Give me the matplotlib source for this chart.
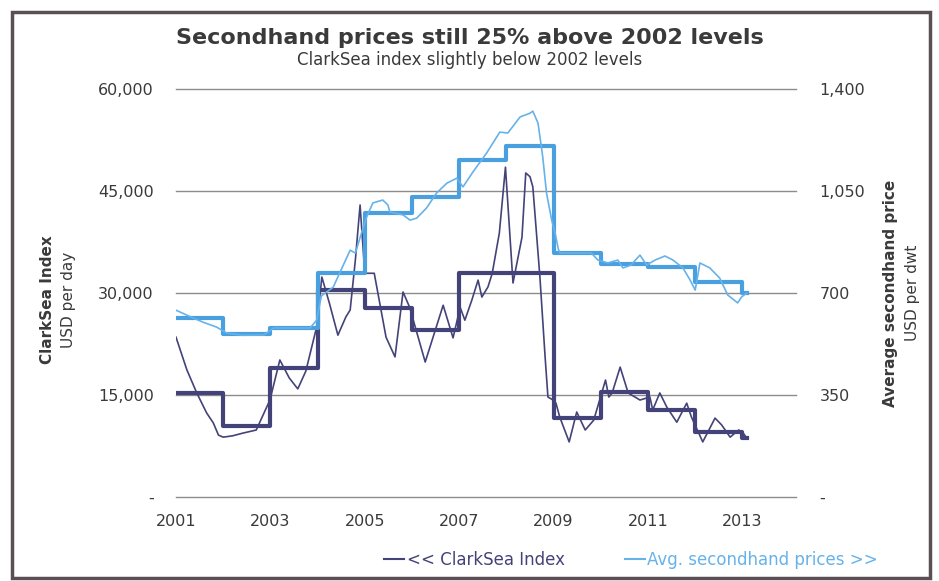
import numpy as np
import matplotlib.pyplot as plt
from matplotlib.lines import Line2D
from matplotlib.patches import Rectangle

# monthly ClarkSea index, USD/day (decimal years)
cs_t = [2001.00, 2001.23, 2001.44, 2001.65, 2001.79, 2001.90, 2002.00, 2002.20, 2002.42, 2002.70,
        2002.99, 2003.20, 2003.40, 2003.58, 2003.75, 2003.98, 2004.09, 2004.25, 2004.43, 2004.60,
        2004.69, 2004.80, 2004.90, 2005.00, 2005.20, 2005.45, 2005.64, 2005.81, 2005.95, 2006.28,
        2006.66, 2006.87, 2007.02, 2007.12, 2007.27, 2007.40, 2007.48, 2007.61, 2007.70, 2007.85,
        2007.98, 2008.14, 2008.33, 2008.41, 2008.50, 2008.56, 2008.71, 2008.82, 2008.88, 2008.99,
        2009.05, 2009.13, 2009.33, 2009.49, 2009.67, 2009.85, 2010.10, 2010.17, 2010.24, 2010.41,
        2010.58, 2010.83, 2011.04, 2011.10, 2011.25, 2011.40, 2011.61, 2011.82, 2011.92, 2012.16,
        2012.42, 2012.56, 2012.74, 2012.92, 2013.00, 2013.09]
cs_v = [23500, 18700, 15300, 12350, 10900, 9100, 8800, 9000, 9400, 9850,
        14260, 20150, 17500, 15900, 18500, 25000, 32350, 28500, 23800, 26500,
        27500, 34850, 42940, 32900, 32900, 23500, 20600, 30150, 27900, 19850,
        28200, 23400, 27900, 26000, 29000, 31900, 29400, 30900, 32900, 38800,
        48500, 31470, 38200, 47650, 47100, 45600, 32350, 20600, 14700, 14260,
        13800, 11760, 8100, 12500, 9850, 11300, 17200, 14700, 15300, 19100,
        15300, 14260, 14700, 12800, 15300, 13200, 11000, 13800, 11760, 8100,
        11600, 10600, 8800, 9850, 9560, 8700]

# monthly average secondhand price, USD/dwt
sh_t = [2001.00, 2001.23, 2001.57, 2001.86, 2002.07, 2002.40, 2002.86, 2003.07, 2003.50, 2003.84,
        2003.98, 2004.08, 2004.33, 2004.69, 2004.80, 2004.93, 2005.04, 2005.17, 2005.38, 2005.49,
        2005.53, 2005.81, 2005.96, 2006.10, 2006.31, 2006.52, 2006.74, 2006.95, 2007.08, 2007.29,
        2007.58, 2007.86, 2008.03, 2008.29, 2008.50, 2008.56, 2008.67, 2008.77, 2008.85, 2008.96,
        2009.04, 2009.10, 2009.14, 2009.80, 2009.94, 2010.15, 2010.36, 2010.47, 2010.64, 2010.83,
        2010.97, 2011.15, 2011.36, 2011.53, 2011.74, 2011.89, 2012.00, 2012.10, 2012.31, 2012.52,
        2012.69, 2012.90, 2012.98, 2013.09]
sh_v = [641, 624, 600, 583, 563, 555, 556, 580, 580, 580,
        607, 690, 720, 847, 837, 906, 961, 1009, 1019, 1002,
        978, 968, 950, 957, 992, 1043, 1077, 1094, 1064, 1115,
        1180, 1252, 1249, 1304, 1317, 1324, 1283, 1167, 1043, 950,
        900, 850, 837, 837, 813, 803, 813, 786, 796, 830,
        796, 813, 827, 813, 786, 745, 710, 803, 786, 751,
        693, 666, 686, 700]

# annual averages (2013 = January only)
years = [2001, 2002, 2003, 2004, 2005, 2006, 2007, 2008, 2009, 2010, 2011, 2012, 2013]
cs_avg = [15300, 10500, 19000, 30500, 27800, 24500, 32900, 32900, 11600, 15500, 12800, 9600, 8700]
sh_avg = [614, 561, 580, 769, 974, 1029, 1158, 1204, 837, 798, 789, 738, 700]
data_end = 2013.09

dark = '#43437a'
light = '#4a9fde'
light_thin = '#66b2ea'
txt = '#3a3a3a'

fig = plt.figure(figsize=(9.39, 5.81), dpi=100)
ax = fig.add_axes([176/939, 1 - 497/581, 620/939, 408/581])
ax2 = ax.twinx()

# ClarkSea (left axis)
ax.step(years + [data_end], cs_avg + [cs_avg[-1]], where='post', color=dark, lw=3.0, zorder=3)
ax.plot(cs_t, cs_v, color=dark, lw=1.2, zorder=4)

# secondhand prices (right axis)
ax2.step(years + [data_end], sh_avg + [sh_avg[-1]], where='post', color=light, lw=3.0, zorder=3)
ax2.plot(sh_t, sh_v, color=light_thin, lw=1.2, zorder=4)

ax.set_xlim(2001, 2001 + 620/47.2)
ax.set_ylim(0, 60000)
ax2.set_ylim(0, 1400)

ax.set_yticks([0, 15000, 30000, 45000, 60000])
ax.set_yticklabels(['-', '15,000', '30,000', '45,000', '60,000'])
ax2.set_yticks([0, 350, 700, 1050, 1400])
ax2.set_yticklabels(['-', '350', '700', '1,050', '1,400'])
ax.set_xticks([2001, 2003, 2005, 2007, 2009, 2011, 2013])
ax.set_xticklabels(['2001', '2003', '2005', '2007', '2009', '2011', '2013'])

for a in (ax, ax2):
    for s in a.spines.values():
        s.set_visible(False)
    a.tick_params(length=0, labelsize=11.5, colors=txt)
ax.tick_params(axis='y', pad=16)
ax2.tick_params(axis='y', pad=17)
ax.tick_params(axis='x', pad=12)

ax.yaxis.grid(True, color='#8c8c8c', lw=1)
for g in ax.get_ygridlines():
    g.set_clip_on(False)
ax.set_axisbelow(True)

# titles
fig.text(0.5, 1 - 38/581, 'Secondhand prices still 25% above 2002 levels', ha='center', va='center',
         fontsize=16, fontweight='bold', color=txt)
fig.text(0.5, 1 - 60/581, 'ClarkSea index slightly below 2002 levels', ha='center', va='center',
         fontsize=12, color=txt)

# axis titles
fig.text(48/939, 1 - 300/581, 'ClarkSea Index', rotation=90, ha='center', va='center',
         fontsize=11, fontweight='bold', color=txt)
fig.text(69/939, 1 - 300/581, 'USD per day', rotation=90, ha='center', va='center',
         fontsize=11, color=txt)
fig.text(890/939, 1 - 293/581, 'Average secondhand price', rotation=90, ha='center', va='center',
         fontsize=11, fontweight='bold', color=txt)
fig.text(912/939, 1 - 293/581, 'USD per dwt', rotation=90, ha='center', va='center',
         fontsize=11, color=txt)

# legend
handles = [Line2D([], [], color=dark, lw=1.5), Line2D([], [], color=light_thin, lw=1.5)]
fig.legend(handles, ['<< ClarkSea Index', 'Avg. secondhand prices >>'], loc='center',
           bbox_to_anchor=(631/939, 1 - 560/581), ncol=2, frameon=False, fontsize=12,
           handlelength=1.2, handletextpad=0.15, columnspacing=3.6, labelcolor='linecolor')

# frame around the chart
fig.patches.append(Rectangle((12/939, 3/581), 918/939, 566/581, transform=fig.transFigure,
                             fill=False, edgecolor='#5a4f55', lw=2.5))

fig.savefig('out.png', dpi=100)
